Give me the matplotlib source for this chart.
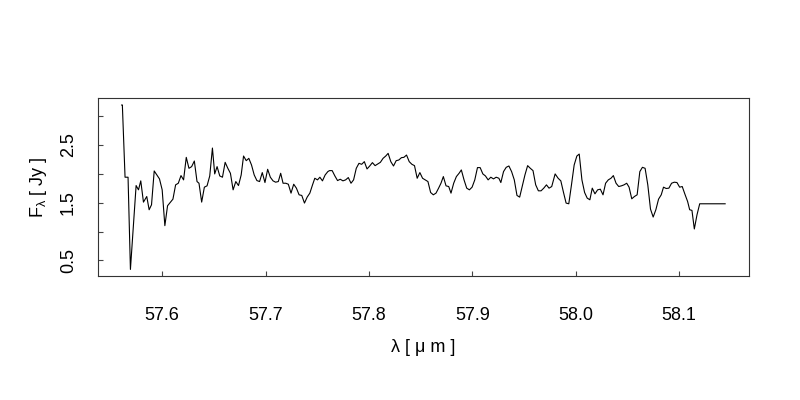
import matplotlib
matplotlib.use("Agg")
import matplotlib.pyplot as plt

plt.rcParams['font.family'] = ['Liberation Sans', 'DejaVu Sans']
plt.rcParams['mathtext.fontset'] = 'custom'
plt.rcParams['mathtext.rm'] = 'Liberation Sans'
plt.rcParams['mathtext.it'] = 'Liberation Sans'

# spectrum, wavelength in micron and flux in Jy
wavelength = [
    57.5609, 57.5615, 57.5641, 57.5670, 57.5693, 57.5748, 57.5771, 57.5793, 57.5819, 57.5851,
    57.5874, 57.5897, 57.5923, 57.5949, 57.5974, 57.6000, 57.6026, 57.6052, 57.6078, 57.6104,
    57.6130, 57.6156, 57.6182, 57.6207, 57.6233, 57.6259, 57.6285, 57.6311, 57.6337, 57.6356,
    57.6382, 57.6408, 57.6434, 57.6460, 57.6486, 57.6508, 57.6531, 57.6557, 57.6583, 57.6609,
    57.6635, 57.6660, 57.6686, 57.6712, 57.6738, 57.6764, 57.6787, 57.6813, 57.6838, 57.6864,
    57.6890, 57.6916, 57.6942, 57.6968, 57.6994, 57.7020, 57.7046, 57.7072, 57.7097, 57.7123,
    57.7146, 57.7169, 57.7195, 57.7220, 57.7246, 57.7272, 57.7298, 57.7324, 57.7350, 57.7376,
    57.7402, 57.7428, 57.7454, 57.7476, 57.7502, 57.7525, 57.7550, 57.7576, 57.7602,
    57.7618, 57.7644, 57.7670, 57.7696, 57.7722, 57.7748, 57.7774, 57.7800, 57.7826, 57.7851,
    57.7877, 57.7903, 57.7929, 57.7955, 57.7981, 57.8007, 57.8033, 57.8059, 57.8084, 57.8110,
    57.8136, 57.8162, 57.8185, 57.8211, 57.8237, 57.8263, 57.8288, 57.8314, 57.8337, 57.8363,
    57.8389, 57.8415, 57.8440, 57.8466, 57.8492, 57.8518, 57.8544, 57.8570, 57.8596, 57.8622,
    57.8648, 57.8673, 57.8696, 57.8719, 57.8745, 57.8771, 57.8793, 57.8819, 57.8845, 57.8871,
    57.8893, 57.8919, 57.8945, 57.8971, 57.8997, 57.9023, 57.9049, 57.9075, 57.9101, 57.9126,
    57.9152, 57.9178, 57.9204, 57.9230, 57.9256, 57.9275, 57.9301, 57.9327, 57.9353, 57.9379,
    57.9405, 57.9431, 57.9457, 57.9483, 57.9508, 57.9534, 57.9560, 57.9586, 57.9612, 57.9638,
    57.9664, 57.9690,
    57.9716, 57.9741, 57.9767, 57.9800, 57.9829, 57.9855, 57.9881, 57.9906, 57.9932, 57.9958,
    57.9984, 58.0010, 58.0033, 58.0059, 58.0085, 58.0110, 58.0136, 58.0159, 58.0185, 58.0211,
    58.0237, 58.0263, 58.0288, 58.0314, 58.0340, 58.0363, 58.0389, 58.0415, 58.0441, 58.0466,
    58.0492, 58.0515, 58.0541, 58.0567, 58.0593, 58.0619, 58.0644, 58.0670, 58.0696, 58.0722,
    58.0748, 58.0774, 58.0800, 58.0826, 58.0848, 58.0874, 58.0900, 58.0926, 58.0952, 58.0978,
    58.1004, 58.1029, 58.1055, 58.1081, 58.1101, 58.1123, 58.1146, 58.1172, 58.1198, 58.1444,
]
flux = [
    3.186, 3.186, 1.938, 1.938, 0.345, 1.794, 1.720, 1.875, 1.508, 1.605,
    1.376, 1.462, 2.046, 1.977, 1.909, 1.720, 1.101, 1.445, 1.502, 1.559,
    1.806, 1.834, 1.966, 1.892, 2.281, 2.092, 2.121, 2.218, 1.863, 1.834,
    1.508, 1.766, 1.789, 1.960, 2.442, 1.995, 2.121, 1.960, 1.938, 2.195,
    2.092, 2.006, 1.720, 1.863, 1.794, 1.977, 2.304, 2.224, 2.264, 2.149,
    1.977, 1.880, 1.863, 2.018, 1.846, 2.075, 1.938, 1.875, 1.852, 1.863,
    2.006, 1.834, 1.834, 1.817, 1.663, 1.817, 1.749, 1.634, 1.623, 1.491,
    1.594, 1.663, 1.806, 1.920, 1.892, 1.938, 1.875, 1.977, 2.035,
    2.052, 2.052, 1.960, 1.880, 1.903, 1.875, 1.892, 1.932, 1.834, 1.892,
    2.092, 2.178, 2.161, 2.207, 2.081, 2.132, 2.190, 2.138, 2.167, 2.195,
    2.264, 2.304, 2.350, 2.207, 2.132, 2.224, 2.235, 2.276, 2.281, 2.321,
    2.207, 2.161, 2.138, 1.920, 2.018, 1.920, 1.892, 1.863, 1.674, 1.634,
    1.663, 1.749, 1.834, 1.949, 1.789, 1.777, 1.663, 1.834, 1.949, 2.006,
    2.064, 1.892, 1.749, 1.720, 1.766, 1.892, 2.104, 2.104, 1.995, 1.960,
    1.892, 1.938, 1.909, 1.938, 1.920, 1.846, 2.035, 2.109, 2.132, 2.035,
    1.892, 1.623, 1.594, 1.789, 1.977, 2.138, 2.092, 2.052, 1.806, 1.703,
    1.703, 1.749,
    1.806, 1.749, 1.777, 1.995, 1.920, 1.875, 1.674, 1.491, 1.479, 1.806,
    2.149, 2.304, 2.338, 1.892, 1.674, 1.577, 1.548, 1.749, 1.651, 1.720,
    1.731, 1.634, 1.834, 1.892, 1.920, 1.966, 1.834, 1.777, 1.789, 1.806,
    1.834, 1.766, 1.565, 1.605, 1.634, 2.035, 2.109, 2.092, 1.806, 1.388,
    1.250, 1.376, 1.559, 1.634, 1.766, 1.743, 1.749, 1.834, 1.852, 1.846,
    1.766, 1.777, 1.645, 1.519, 1.376, 1.365, 1.044, 1.290, 1.479, 1.479,
]

x_ticks = [57.6, 57.7, 57.8, 57.9, 58.0, 58.1]
x_ticklabels = ["57.6", "57.7", "57.8", "57.9", "58.0", "58.1"]
y_ticks = [0.5, 1.0, 1.5, 2.0, 2.5, 3.0]
y_ticklabels = ["0.5", "", "1.5", "", "2.5", ""]

fig = plt.figure(figsize=(8, 4), dpi=100)
ax = fig.add_axes([0.122, 0.31, 0.8146, 0.444])

ax.plot(wavelength, flux, color="black", lw=0.8)

# R style: 4% padding on each side
x0, x1 = min(wavelength), max(wavelength)
y0, y1 = min(flux), max(flux)
dx = (x1 - x0) * 0.04
dy = (y1 - y0) * 0.04
ax.set_xlim(x0 - dx, x1 + dx)
ax.set_ylim(y0 - dy, y1 + dy)

ax.set_xticks(x_ticks)
ax.set_xticklabels(x_ticklabels)
ax.set_yticks(y_ticks)
ax.set_yticklabels(y_ticklabels, rotation=90, va="center")

ax.tick_params(direction="in", length=3.5, width=0.8, labelsize=13, color="#444444")
ax.tick_params(axis="x", pad=22)
ax.tick_params(axis="y", pad=15)

for s in ax.spines.values():
    s.set_linewidth(0.8)
    s.set_color("#333333")

ax.set_xlabel("λ [ μ m ]", fontsize=13, labelpad=11)
ax.set_ylabel(r"F$_\mathregular{λ}$ [ Jy ]", fontsize=13, labelpad=8)

fig.savefig("out.png", dpi=100)
